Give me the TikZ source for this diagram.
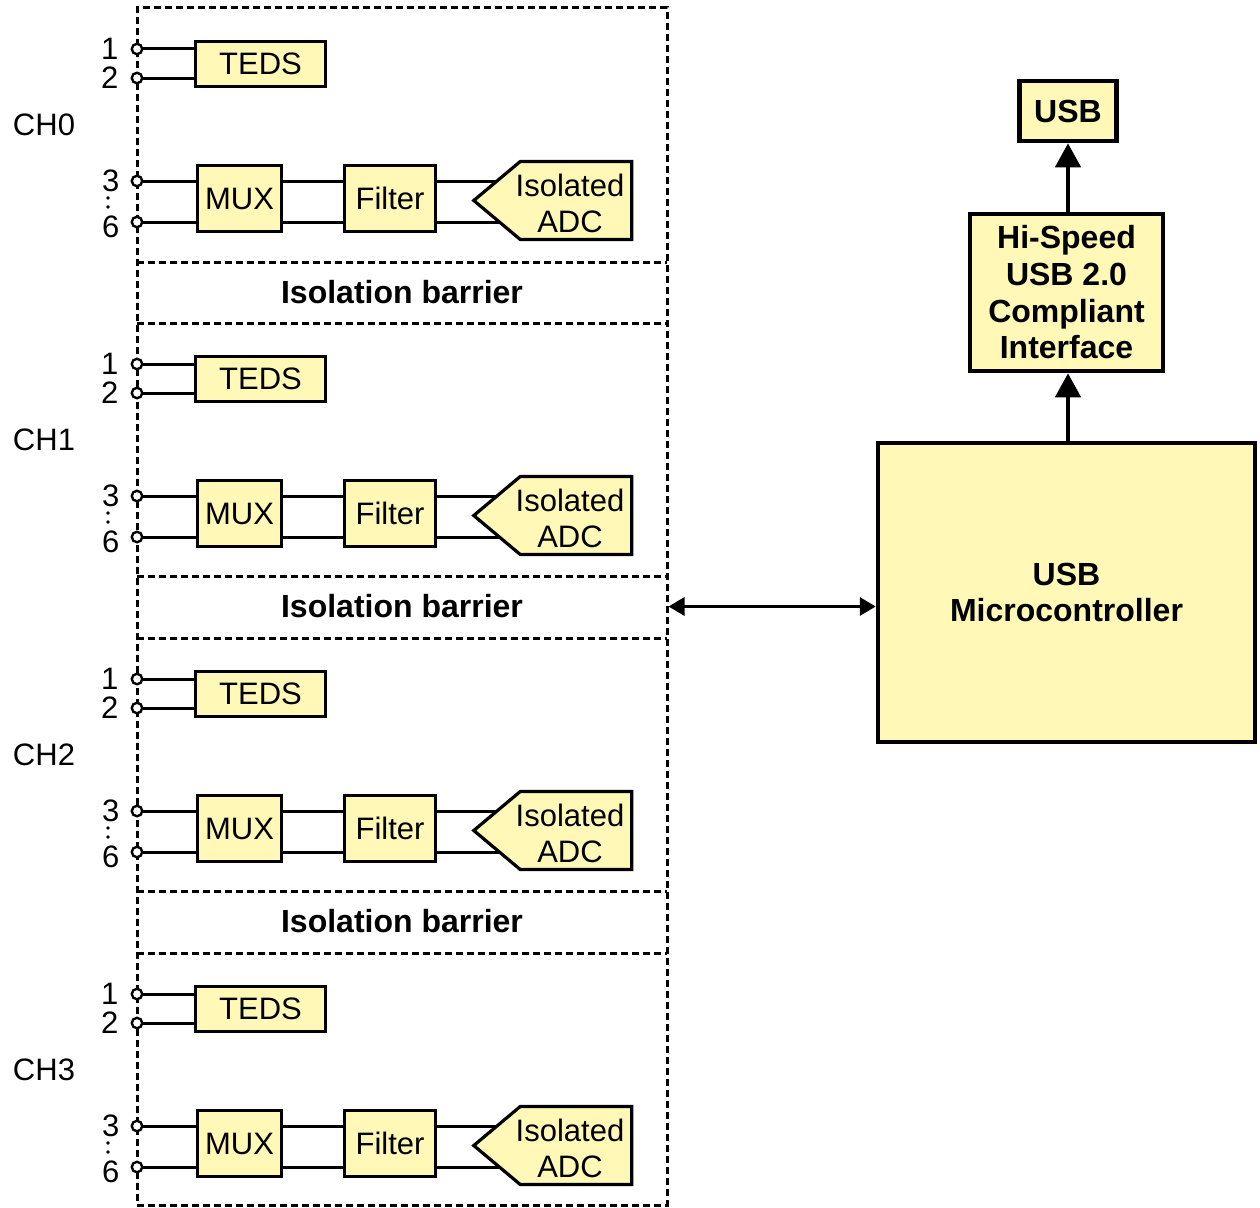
\documentclass[tikz,border=0pt]{standalone}
\usepackage{fontspec}
\setmainfont{Liberation Sans}
\usetikzlibrary{positioning,shapes.symbols,arrows.meta,backgrounds}
\definecolor{paleyel}{RGB}{255,248,182}

\begin{document}
\begin{tikzpicture}[x=1pt, y=-1pt,
                    %scale = 1,
                    blockrect/.style={rectangle, align = center,
                    draw = black, fill = paleyel, line width = 3.2pt,
                    inner sep = 0pt, font = \fontsize{31}{36}\selectfont},
                    adcsig/.style={signal, signal to = west, signal from = nowhere,
                    signal pointer angle = 80, draw = black, fill = paleyel,
                    line width = 3.2pt, inner sep = 0pt,
                    minimum width = 158pt, minimum height = 78pt},
                    usbrect/.style={rectangle, align = center,
                    draw = black, fill = paleyel, line width = 4.5pt,
                    inner sep = 0pt, font = \bfseries\fontsize{32}{36.7}\selectfont},
                    pinnode/.style={circle, draw = black, fill = white,
                    line width = 2.4pt, inner sep = 0pt, minimum size = 10.5pt},
                    numlbl/.style={inner sep = 0pt, font = \fontsize{31}{36}\selectfont},
                    barlbl/.style={inner sep = 0pt, font = \bfseries\fontsize{32}{36}\selectfont},
                    wire/.style={line width = 3pt},
                    barline/.style={dash pattern = on 7pt off 4pt, line width = 3pt},
                    uparr/.style={-{Triangle[width = 25pt, length = 24pt]}, line width = 4.5pt},
                    busarr/.style={{Triangle[width = 18pt, length = 16pt]}-{Triangle[width = 18pt, length = 16pt]},
                    line width = 3.2pt}]

                    \useasboundingbox (0,0) rectangle (1260,1207);

                    % dashed frame round the channels
                    \node[draw, barline, inner sep = 0pt, minimum width = 530pt,
                    minimum height = 1197pt] (frame) at (402,606.5) {};

                    % isolation barriers
                    \foreach \b in {0,1,2} {
                    \draw[barline] (137,{262+314.5*\b}) -- (667,{262+314.5*\b});
                    \draw[barline] (137,{323+315*\b}) -- (667,{323+315*\b});
                    \node[barlbl] (bar\b) at (402,{292+314.5*\b}) {Isolation barrier};
                    }

                    % channels
                    \foreach \c in {0,...,3} {
                    \pgfmathsetmacro{\o}{315*\c}
                    \node[numlbl] (ch\c) at (44,125+\o) {CH\c};

                    \node[blockrect, minimum width = 130pt, minimum height = 45pt] (teds\c) at (260.5,64+\o) {TEDS};
                    \node[blockrect, minimum width = 84pt, minimum height = 66pt] (mux\c) at (239.5,198.5+\o) {MUX};
                    \node[blockrect, minimum width = 91pt, minimum height = 66pt] (filter\c) at (390,198.5+\o) {Filter};
                    \node[adcsig, label = {[blockrect, draw = none, fill = none, xshift = -6pt, yshift = -3pt]center:Isolated\\ADC}] (adc\c) at (576,200.5+\o) {};

                    \node[pinnode] (pone\c) at (137,49+\o) {};
                    \node[pinnode] (ptwo\c) at (137,78+\o) {};
                    \node[pinnode] (pthree\c) at (137,181+\o) {};
                    \node[pinnode] (psix\c) at (137,222+\o) {};
                    \node[numlbl, left = 12pt of pone\c] {1};
                    \node[numlbl, left = 12pt of ptwo\c] {2};
                    \node[numlbl, left = 11pt of pthree\c] {3};
                    \node[numlbl, left = 11pt of psix\c, yshift = -5pt] {6};
                    \fill (108,198+\o) circle (1.8pt);
                    \fill (108,207+\o) circle (1.8pt);

                    \begin{scope}[on background layer]
                    \draw[wire] (pone\c) -- (pone\c -| teds\c.west);
                    \draw[wire] (ptwo\c) -- (ptwo\c -| teds\c.west);
                    \draw[wire] (pthree\c) -- (pthree\c -| adc\c.center);
                    \draw[wire] (psix\c) -- (psix\c -| adc\c.center);
                    \end{scope}
                    }

                    % usb side
                    \node[usbrect, minimum width = 377pt, minimum height = 299pt] (micro) at (1066.5,592.5) {USB\\Microcontroller};
                    \node[usbrect, minimum width = 193pt, minimum height = 157pt] (hispeed) at (1066.5,292.5) {Hi-Speed\\USB 2.0\\Compliant\\Interface};
                    \node[usbrect, minimum width = 97pt, minimum height = 60pt] (usb) at (1068,111) {USB};

                    \draw[uparr] (micro.north -| usb) -- (hispeed.south -| usb);
                    \draw[uparr] (hispeed.north -| usb) -- (usb);
                    \draw[busarr] (bar1 -| frame.east) -- (bar1 -| micro.west);
                    \end{tikzpicture}
\end{document}
